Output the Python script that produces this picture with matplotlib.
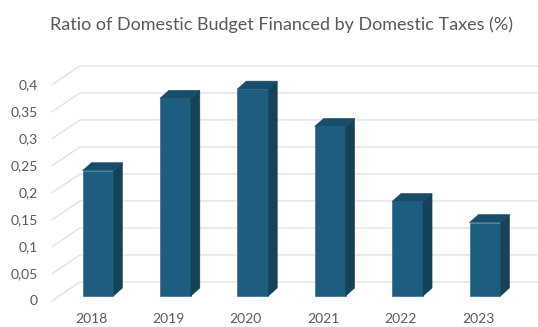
import matplotlib.pyplot as plt
from matplotlib.patches import Polygon

years = ['2018', '2019', '2020', '2021', '2022', '2023']
ratio = [0.232, 0.366, 0.383, 0.314, 0.175, 0.136]
ticks = [0, 0.05, 0.1, 0.15, 0.2, 0.25, 0.3, 0.35, 0.4]
tick_labels = ['0', '0,05', '0,1', '0,15', '0,2', '0,25', '0,3', '0,35', '0,4']

plt.rcParams['font.family'] = ['Lato', 'DejaVu Sans']

front_col = '#1d5e80'
side_col = '#134259'
top_col = '#184d6c'
grid_col = '#e2dede'
text_col = '#595959'

fig = plt.figure(figsize=(5.38, 3.27), dpi=100)
ax = fig.add_axes([0, 0, 1, 1])
ax.set_xlim(-1.266, 5.685)
ax.set_ylim(-0.0574, 0.548)
ax.axis('off')

# fake 3D: column depth offset, floor front edge and back wall
w = 0.4
bdx, bdy = 0.116, 0.0148
front_x, front_dy = -0.598, -0.0093
wall_x, wall_dy = -0.233, 0.026

for v in ticks:
    ax.plot([front_x, wall_x, 5.685], [v + front_dy, v + wall_dy, v + wall_dy],
            color=grid_col, lw=0.9, zorder=1, solid_capstyle='butt')

for i, v in enumerate(ratio):
    ax.bar(i, v, width=w, color=front_col, edgecolor=front_col,
           linewidth=0.4, zorder=3)
    r, l = i + w / 2, i - w / 2
    ax.add_patch(Polygon([(r, 0), (r + bdx, bdy), (r + bdx, v + bdy), (r, v)],
                         closed=True, fc=side_col, ec=side_col, lw=0.4, zorder=3))
    ax.add_patch(Polygon([(l, v), (l + bdx, v + bdy), (r + bdx, v + bdy), (r, v)],
                         closed=True, fc=top_col, ec=top_col, lw=0.4, zorder=3))

for v, lab in zip(ticks, tick_labels):
    ax.text(-0.775, v + front_dy, lab, ha='right', va='center',
            fontsize=10, color=text_col)

for i, yr in enumerate(years):
    ax.text(i - 0.09, -0.0426, yr, ha='center', va='center',
            fontsize=10, color=text_col)

fig.text(282 / 538, 1 - 25 / 327,
         'Ratio of Domestic Budget Financed by Domestic Taxes (%)',
         ha='center', va='center', fontsize=13, color=text_col)

fig.savefig('out.png', dpi=100)
